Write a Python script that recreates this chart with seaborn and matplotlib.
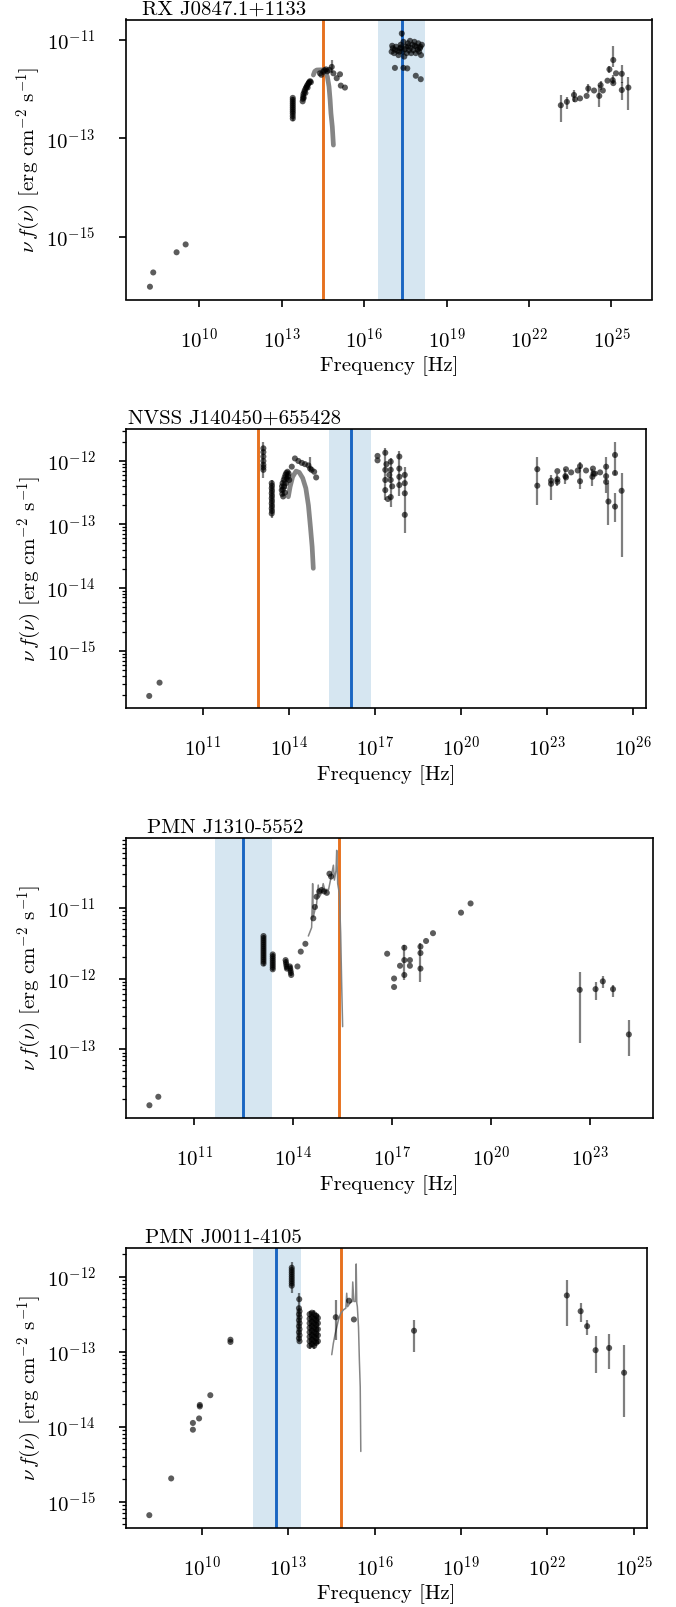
import numpy as np
import matplotlib
matplotlib.use("Agg")
import matplotlib.pyplot as plt
import seaborn as sns
from matplotlib.ticker import FixedLocator, NullLocator, LogLocator, NullFormatter

# ---------------- data (log10 of frequency [Hz] and log10 of nu f(nu)) ----------------
names = ["RX J0847.1+1133", "NVSS J140450+655428", "PMN J1310-5552", "PMN J0011-4105"]

orange_line = [14.51, 12.92, 15.40, 14.83]
blue_line = [17.37, 16.15, 12.49, 12.58]
blue_band_lo = [16.52, 15.41, 11.62, 11.76]
blue_band_hi = [18.22, 16.87, 13.36, 13.44]

# ---- panel 1 ----
p1_x = [8.20, 8.32, 9.17, 9.50,
        13.40, 13.40, 13.40, 13.40, 13.40, 13.40, 13.40, 13.40, 13.40, 13.40, 13.40,
        13.76, 13.77, 13.78, 13.79, 13.80, 13.82, 13.84, 13.86, 13.88, 13.90, 13.92, 13.94, 13.96,
        13.98, 14.00, 14.03, 14.06,
        14.39, 14.44, 14.51, 14.55, 14.61, 14.66, 14.73, 14.82, 14.88, 15.00, 15.12, 15.15, 15.30,
        17.00, 17.04, 17.09, 17.16, 17.21, 17.25, 17.31, 17.33, 17.37, 17.40, 17.43, 17.46, 17.51,
        17.55, 17.59, 17.63, 17.67, 17.71, 17.76, 17.79, 17.83, 17.88, 17.91, 17.97, 18.00, 18.03,
        18.07, 18.10, 17.02, 17.12, 17.28, 17.35, 17.48, 17.60, 17.69, 17.85, 17.95, 18.05,
        17.12, 17.43, 17.57, 17.88, 18.06,
        23.16, 23.38, 23.64, 23.68, 23.86, 24.10, 24.16, 24.37, 24.56, 24.61, 24.69, 24.86, 24.93,
        25.05, 25.07, 25.07, 25.17, 25.38, 25.38, 25.62]
p1_y = [-16.02, -15.73, -15.32, -15.16,
        -12.18, -12.22, -12.26, -12.30, -12.34, -12.38, -12.42, -12.46, -12.50, -12.55, -12.60,
        -12.25, -12.20, -12.15, -12.10, -12.18, -12.06, -12.02, -12.08, -11.98, -11.96, -11.93, -11.97,
        -11.90, -11.88, -11.86, -11.84, -11.86,
        -11.68, -11.71, -11.65, -11.62, -11.60, -11.64, -11.61, -11.55, -11.68, -11.78, -11.70, -11.93, -11.97,
        -11.24, -11.17, -11.27, -11.14, -11.22, -11.31, -11.17, -11.10, -10.87, -11.24, -11.04, -11.34, -11.14,
        -11.27, -11.07, -11.21, -11.02, -11.27, -11.10, -11.21, -11.04, -11.27, -11.14, -11.07, -11.24, -11.17,
        -11.31, -11.10, -11.12, -11.20, -11.24, -11.15, -11.19, -11.13, -11.16, -11.12, -11.20, -11.14,
        -11.57, -11.57, -11.58, -11.73, -11.80,
        -12.33, -12.26, -12.12, -12.21, -12.19, -12.14, -11.99, -12.03, -12.14, -11.92, -12.03, -11.83, -11.60,
        -11.82, -11.41, -11.88, -11.68, -11.69, -12.02, -11.97]
p1_err_x = [13.40, 13.80, 13.90, 14.00, 14.82, 17.37, 23.16, 23.38, 23.64, 24.16, 24.56, 24.61, 24.93,
            25.05, 25.07, 25.38, 25.38, 25.62]
p1_err_lo = [-12.66, -12.22, -12.02, -11.92, -11.67, -10.95, -12.67, -12.40, -12.26, -12.09, -12.37,
             -12.02, -11.67, -11.90, -11.55, -11.88, -12.22, -12.43]
p1_err_hi = [-12.16, -12.08, -11.92, -11.82, -11.41, -10.83, -12.12, -12.16, -12.02, -11.89, -11.92,
             -11.83, -11.53, -11.72, -11.13, -11.51, -11.85, -11.75]
p1_curve_x = [14.15, 14.20, 14.27, 14.40, 14.575, 14.66, 14.72, 14.76, 14.79, 14.84, 14.88]
p1_curve_y = [-11.715, -11.64, -11.613, -11.61, -11.613, -11.75, -11.95, -12.22, -12.49, -12.77, -13.14]

# ---- panel 2 ----
p2_x = [9.13, 9.49,
        13.11, 13.11, 13.11, 13.11, 13.11, 13.11, 13.11,
        13.40, 13.41, 13.40, 13.41, 13.40, 13.41, 13.40, 13.41, 13.40, 13.41, 13.40, 13.41, 13.40,
        13.75, 13.76, 13.77, 13.78, 13.79, 13.80, 13.82, 13.83, 13.85, 13.86, 13.88, 13.90, 13.91,
        13.93, 13.95, 13.97, 13.99, 14.01,
        14.10, 14.21, 14.33, 14.45, 14.56, 14.68, 14.74, 14.79, 14.88, 14.95,
        17.09, 17.09, 17.36, 17.36, 17.36, 17.36, 17.55, 17.55, 17.55, 17.55, 17.85, 17.85, 17.85,
        17.85, 18.04, 18.04, 18.04, 18.04, 17.40, 17.50, 17.60, 17.45,
        22.66, 22.66, 23.14, 23.14, 23.36, 23.36, 23.36, 23.64, 23.66, 23.66, 23.84, 24.07, 24.15,
        24.15, 24.36, 24.58, 24.60, 24.62, 24.67, 24.85, 25.06, 25.06, 25.06, 25.14, 25.37, 25.37,
        25.37, 25.60]
p2_y = [-15.71, -15.50,
        -11.80, -11.86, -11.93, -12.00, -12.06, -12.10, -12.14,
        -12.35, -12.39, -12.43, -12.47, -12.51, -12.55, -12.59, -12.63, -12.67, -12.71, -12.75, -12.79, -12.83,
        -12.46, -12.40, -12.52, -12.35, -12.45, -12.56, -12.30, -12.40, -12.26, -12.50, -12.22, -12.35, -12.19,
        -12.28, -12.17, -12.24, -12.20, -12.30,
        -12.09, -11.96, -12.00, -12.03, -12.05, -12.07, -12.12, -12.14, -12.17, -12.26,
        -11.92, -11.99, -11.87, -12.14, -12.30, -12.46, -12.01, -12.14, -12.30, -12.57, -11.93, -12.12,
        -12.25, -12.38, -12.22, -12.35, -12.51, -12.85, -12.05, -12.22, -12.40, -12.60,
        -12.13, -12.39, -12.31, -12.36, -12.16, -12.29, -12.33, -12.24, -12.13, -12.26, -12.18, -12.15,
        -12.08, -12.32, -12.15, -12.25, -12.12, -12.20, -12.20, -12.18, -12.09, -12.24, -12.33, -12.64,
        -11.905, -12.19, -12.72, -12.47]
p2_err_x = [13.11, 13.40, 13.80, 13.90, 13.97, 14.74, 17.36, 17.55, 17.85, 18.04,
            22.66, 22.66, 23.14, 23.36, 23.64, 24.15, 24.15, 24.58, 25.06, 25.14, 25.37, 25.37, 25.60]
p2_err_lo = [-12.27, -12.905, -12.56, -12.45, -12.30, -12.14, -12.62, -12.72, -12.55, -13.13,
             -12.25, -12.70, -12.62, -12.40, -12.36, -12.12, -12.45, -12.40, -12.50, -13.01, -12.22,
             -12.96, -13.51]
p2_err_hi = [-11.695, -12.30, -12.30, -12.20, -12.17, -11.93, -11.80, -11.95, -11.85, -12.10,
             -11.93, -12.25, -12.22, -12.20, -12.12, -12.02, -12.10, -12.12, -11.93, -12.35, -11.70,
             -12.51, -12.195]
p2_curve_x = [13.98, 14.04, 14.13, 14.25, 14.36, 14.48, 14.59, 14.68, 14.75, 14.81, 14.85]
p2_curve_y = [-12.565, -12.41, -12.25, -12.16, -12.18, -12.27, -12.43, -12.70, -13.04, -13.355, -13.695]

# ---- panel 3 ----
p3_x = [9.64, 9.91,
        13.10, 13.10, 13.10, 13.10, 13.10, 13.10, 13.10, 13.10, 13.10, 13.10, 13.10, 13.10, 13.10, 13.10,
        13.38, 13.38, 13.38, 13.38, 13.38, 13.38, 13.38, 13.38,
        13.77, 13.78, 13.79, 13.80, 13.81, 13.90, 13.91, 13.92, 13.93, 13.94,
        14.13, 14.23, 14.37,
        14.61, 14.66, 14.71, 14.79, 14.86, 14.94, 15.02, 15.10, 15.15,
        16.85, 17.06, 17.06, 17.24, 17.37, 17.37, 17.37, 17.54, 17.54, 17.86, 17.86, 17.86, 18.03,
        18.24, 19.09, 19.38,
        22.69, 23.17, 23.39, 23.70, 24.18]
p3_y = [-13.79, -13.67,
        -11.40, -11.43, -11.46, -11.49, -11.52, -11.55, -11.58, -11.61, -11.64, -11.67, -11.70, -11.73,
        -11.76, -11.79,
        -11.66, -11.69, -11.72, -11.75, -11.78, -11.81, -11.84, -11.87,
        -11.74, -11.77, -11.80, -11.83, -11.86, -11.83, -11.86, -11.89, -11.92, -11.95,
        -11.83, -11.62, -11.51,
        -11.15, -10.99, -10.845, -10.77, -10.75, -10.77, -10.79, -10.52, -10.56,
        -11.65, -12.00, -12.12, -11.82, -11.565, -11.74, -11.95, -11.74, -11.82, -11.55, -11.64, -11.86,
        -11.47, -11.36, -11.07, -10.94,
        -12.16, -12.15, -12.04, -12.15, -12.79]
p3_err_x = [13.10, 13.38, 13.79, 13.92, 17.37, 17.86, 22.69, 23.17, 23.39, 23.70, 24.18]
p3_err_lo = [-11.82, -11.89, -11.88, -11.97, -12.02, -12.045, -12.915, -12.30, -12.14, -12.26, -13.09]
p3_err_hi = [-11.38, -11.64, -11.72, -11.81, -11.53, -11.50, -11.904, -12.045, -11.965, -12.09, -12.59]
p3_curve_x = [14.46, 14.56, 14.59, 14.61, 14.66, 14.71, 14.76, 14.79, 14.85, 14.91, 14.97, 15.02,
              15.07, 15.14, 15.22, 15.25, 15.30, 15.32, 15.35, 15.40, 15.44, 15.47, 15.50]
p3_curve_y = [-11.40, -11.28, -10.66, -11.13, -11.03, -10.95, -10.68, -10.85, -10.80, -10.66, -10.77,
              -10.74, -10.75, -10.59, -10.40, -10.61, -10.47, -10.19, -10.66, -10.80, -11.36, -12.07,
              -12.68]

# ---- panel 4 ----
p4_x = [8.17, 8.93, 9.685, 9.685, 9.90, 9.925, 9.925, 10.29, 10.99, 10.99,
        13.12, 13.12, 13.12, 13.12, 13.12, 13.12, 13.12, 13.12, 13.12,
        13.38, 13.37, 13.39, 13.37, 13.39, 13.37, 13.39, 13.37, 13.39, 13.37, 13.39, 13.37, 13.39,
        13.74, 13.74, 13.74, 13.74, 13.74, 13.74, 13.74, 13.74,
        13.82, 13.82, 13.82, 13.82, 13.82, 13.82, 13.82, 13.82,
        13.90, 13.90, 13.90, 13.90, 13.90, 13.90, 13.90, 13.90,
        13.97, 13.97, 13.97, 13.97, 13.97, 13.97, 13.97,
        14.03, 14.03, 14.03, 14.03, 14.03,
        14.65, 15.11, 15.28, 17.37,
        22.68, 23.16, 23.385, 23.68, 24.15, 24.67]
p4_y = [-15.18, -14.69, -13.95, -14.04, -13.89, -13.71, -13.73, -13.58, -12.84, -12.87,
        -11.88, -11.91, -11.94, -11.97, -12.00, -12.03, -12.06, -12.09, -12.12,
        -12.30, -12.42, -12.46, -12.50, -12.54, -12.58, -12.62, -12.66, -12.70, -12.74, -12.78, -12.82, -12.86,
        -12.50, -12.56, -12.62, -12.68, -12.74, -12.80, -12.86, -12.92,
        -12.48, -12.54, -12.60, -12.66, -12.72, -12.78, -12.84, -12.90,
        -12.50, -12.56, -12.62, -12.68, -12.74, -12.80, -12.86, -12.92,
        -12.52, -12.58, -12.64, -12.70, -12.76, -12.82, -12.88,
        -12.55, -12.62, -12.70, -12.78, -12.86,
        -12.54, -12.32, -12.57, -12.72,
        -12.25, -12.46, -12.66, -12.98, -12.95, -13.28]
p4_err_x = [13.12, 13.38, 13.74, 13.82, 13.90, 13.97, 14.03, 14.65, 17.37, 22.68, 23.16, 23.385, 23.68,
            24.15, 24.67]
p4_err_lo = [-12.22, -12.87, -12.96, -12.94, -12.96, -12.92, -12.90, -12.84, -13.00, -12.653, -12.60,
             -12.777, -13.28, -13.234, -13.874]
p4_err_hi = [-11.80, -12.22, -12.46, -12.46, -12.44, -12.48, -12.50, -12.31, -12.58, -12.044, -12.355,
             -12.577, -12.79, -12.764, -12.91]
p4_curve_x = [14.51, 14.565, 14.62, 14.74, 14.82, 14.92, 15.00, 15.03, 15.06, 15.15, 15.22, 15.24,
              15.28, 15.34, 15.36, 15.38, 15.40, 15.44, 15.47, 15.50, 15.52]
p4_curve_y = [-13.04, -12.89, -12.78, -12.58, -12.49, -12.44, -12.42, -12.22, -12.40, -12.35, -12.33,
              -12.07, -12.33, -12.33, -11.83, -12.35, -12.40, -12.67, -13.11, -13.47, -14.33]

x_ticks = [[10, 13, 16, 19, 22, 25], [11, 14, 17, 20, 23, 26], [11, 14, 17, 20, 23], [10, 13, 16, 19, 22, 25]]
y_ticks = [[-15, -13, -11], [-15, -14, -13, -12], [-13, -12, -11], [-15, -14, -13, -12]]

# ---------------- style ----------------
sns.set_theme(style="ticks")
plt.rcParams.update({
    "font.family": ["cmr10", "DejaVu Serif"],
    "mathtext.fontset": "cm",
    "axes.formatter.use_mathtext": True,
    "font.size": 15,
    "text.color": "black",
    "axes.edgecolor": "black",
    "axes.labelcolor": "black",
    "xtick.color": "black",
    "ytick.color": "black",
    "axes.linewidth": 1.2,
    "xtick.major.width": 1.2,
    "ytick.major.width": 1.2,
    "ytick.minor.width": 0.9,
    "xtick.major.size": 5.3,
    "ytick.major.size": 5.3,
    "ytick.minor.size": 3.0,
    "xtick.labelsize": 15,
    "ytick.labelsize": 15,
    "axes.labelsize": 15,
})

panels = [
    dict(x=p1_x, y=p1_y, ex=p1_err_x, elo=p1_err_lo, ehi=p1_err_hi, cx=p1_curve_x, cy=p1_curve_y, thick=True),
    dict(x=p2_x, y=p2_y, ex=p2_err_x, elo=p2_err_lo, ehi=p2_err_hi, cx=p2_curve_x, cy=p2_curve_y, thick=True),
    dict(x=p3_x, y=p3_y, ex=p3_err_x, elo=p3_err_lo, ehi=p3_err_hi, cx=p3_curve_x, cy=p3_curve_y, thick=False),
    dict(x=p4_x, y=p4_y, ex=p4_err_x, elo=p4_err_lo, ehi=p4_err_hi, cx=p4_curve_x, cy=p4_curve_y, thick=False),
]

W, H = 676, 1607
boxes = [  # left, top, right, bottom in pixels
    (125.5, 19.5, 652, 299.5),
    (126, 429, 646, 708.3),
    (126, 838.3, 652.6, 1118.3),
    (126, 1247.7, 647.4, 1527.7),
]
xlims = [(7.31, 26.48), (8.32, 26.45), (8.93, 24.90), (7.36, 25.48)]
ylims = [(-16.28, -10.586), (-15.905, -11.495), (-13.974, -10.02), (-15.347, -11.613)]
title_x = [0.032, 0.004, 0.040, 0.037]

fig = plt.figure(figsize=(W / 100, H / 100), dpi=100)

for i, P in enumerate(panels):
    l, t, r, b = boxes[i]
    ax = fig.add_axes([l / W, 1 - b / H, (r - l) / W, (b - t) / H])
    ax.set_xscale("log")
    ax.set_yscale("log")

    ax.axvspan(10 ** blue_band_lo[i], 10 ** blue_band_hi[i], color="#1f77b4", alpha=0.18, lw=0, zorder=0)
    ax.axvline(10 ** blue_line[i], color="#1a66c2", lw=2.1, zorder=1)
    ax.axvline(10 ** orange_line[i], color="#e6711f", lw=2.1, zorder=1)

    sns.lineplot(x=10 ** np.array(P["cx"]), y=10 ** np.array(P["cy"]), ax=ax, sort=False,
                 estimator=None, color="#7f7f7f", lw=3.4 if P["thick"] else 1.1, zorder=2,
                 alpha=0.95)

    ax.vlines(10 ** np.array(P["ex"]), 10 ** np.array(P["elo"]), 10 ** np.array(P["ehi"]),
              color="black", alpha=0.5, lw=1.6, zorder=3)
    sns.scatterplot(x=10 ** np.array(P["x"]), y=10 ** np.array(P["y"]), ax=ax, s=19,
                    color="black", alpha=0.64, edgecolor="none", linewidth=0, zorder=4)

    ax.set_xlim(10 ** xlims[i][0], 10 ** xlims[i][1])
    ax.set_ylim(10 ** ylims[i][0], 10 ** ylims[i][1])

    ax.xaxis.set_major_locator(FixedLocator([10.0 ** k for k in x_ticks[i]]))
    ax.xaxis.set_minor_locator(NullLocator())
    ax.yaxis.set_major_locator(FixedLocator([10.0 ** k for k in y_ticks[i]]))
    if i == 0:
        ax.yaxis.set_minor_locator(NullLocator())
    else:
        ax.yaxis.set_minor_locator(LogLocator(base=10, subs=np.arange(2, 10), numticks=50))
    ax.yaxis.set_minor_formatter(NullFormatter())
    ax.tick_params(axis="x", which="major", pad=14.5)
    ax.tick_params(axis="y", which="major", pad=16.5)
    ax.tick_params(top=False, right=False)

    ax.set_xlabel("Frequency [Hz]", labelpad=3.5)
    ax.set_ylabel(r"$\nu\, f(\nu)$ [erg cm$^{-2}$ s$^{-1}$]", labelpad=2)
    ax.text(title_x[i], 1.004, names[i], transform=ax.transAxes, ha="left", va="bottom", fontsize=15)
    for s in ax.spines.values():
        s.set_visible(True)
        s.set_linewidth(1.2)
        s.set_color("black")

fig.savefig("out.png", dpi=100)
